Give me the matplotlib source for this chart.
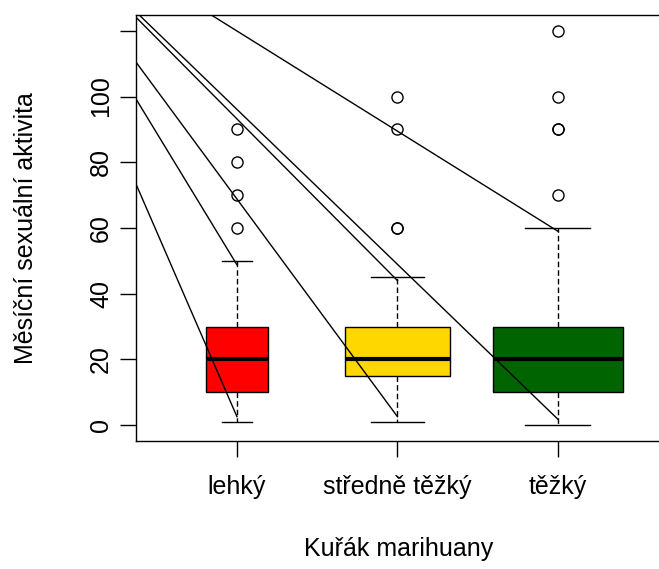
import matplotlib
matplotlib.use("Agg")
import matplotlib.pyplot as plt

plt.rcParams['font.family'] = ['Liberation Sans', 'DejaVu Sans']
plt.rcParams['font.size'] = 18

# data
skupiny = ["lehký", "středně těžký", "těžký"]
q1 = [10, 15, 10]
median = [20, 20, 20]
q3 = [30, 30, 30]
whis_lo = [1, 1, 0]
whis_hi = [50, 45, 60]
odlehle = [[60, 70, 80, 90], [60, 60, 90, 100], [70, 90, 90, 100, 120]]
sirky = [0.384, 0.65, 0.81]
barvy = ["#FF0000", "#FFD700", "#006400"]

# the stray lines: one common start point, ends near whisker ends
cary_start = (-0.43, 163.5)
cary_skupina = [1, 1, 2, 2, 3, 3]
cary_konec = [2.6, 48.8, 2.6, 44.0, 1.8, 59.0]

fig = plt.figure(figsize=(6.59, 5.69), dpi=100)
ax = fig.add_axes([136 / 659, 128 / 569, 525 / 659, 426 / 569])

stats = []
for i in range(len(skupiny)):
    stats.append({"med": median[i], "q1": q1[i], "q3": q3[i],
                  "whislo": whis_lo[i], "whishi": whis_hi[i],
                  "fliers": odlehle[i], "label": skupiny[i]})

bp = ax.bxp(stats, positions=[1, 2, 3], widths=sirky,
            capwidths=[w / 2 for w in sirky], patch_artist=True,
            boxprops=dict(edgecolor="black", linewidth=1),
            medianprops=dict(color="black", linewidth=3, solid_capstyle="butt"),
            whiskerprops=dict(color="black", linewidth=1, linestyle=(0, (4, 2.2))),
            capprops=dict(color="black", linewidth=1),
            flierprops=dict(marker="o", markerfacecolor="none", markeredgecolor="black",
                            markersize=8, markeredgewidth=1))
for patch, c in zip(bp["boxes"], barvy):
    patch.set_facecolor(c)

for g, v in zip(cary_skupina, cary_konec):
    ax.plot([cary_start[0], g], [cary_start[1], v], color="black", linewidth=1)

ax.set_xlim(0.371, 3.642)
ax.set_ylim(-4.8, 124.8)
ax.set_xticks([1, 2, 3])
ax.set_xticklabels(skupiny)
ax.set_yticks([0, 20, 40, 60, 80, 100, 120])
ax.set_yticklabels(["0", "20", "40", "60", "80", "100", ""], rotation=90, va="center")
ax.tick_params(direction="out", length=11.5, width=1)
ax.tick_params(axis="x", pad=13)
ax.tick_params(axis="y", pad=5)
for s in ax.spines.values():
    s.set_linewidth(1)

ax.set_xlabel("Kuřák marihuany")
ax.xaxis.set_label_coords(0.5, -0.225)
ax.set_ylabel("Měsíční sexuální aktivita", va="center")
ax.yaxis.set_label_coords(-0.21, 0.5)

plt.savefig("out.png", dpi=100)
